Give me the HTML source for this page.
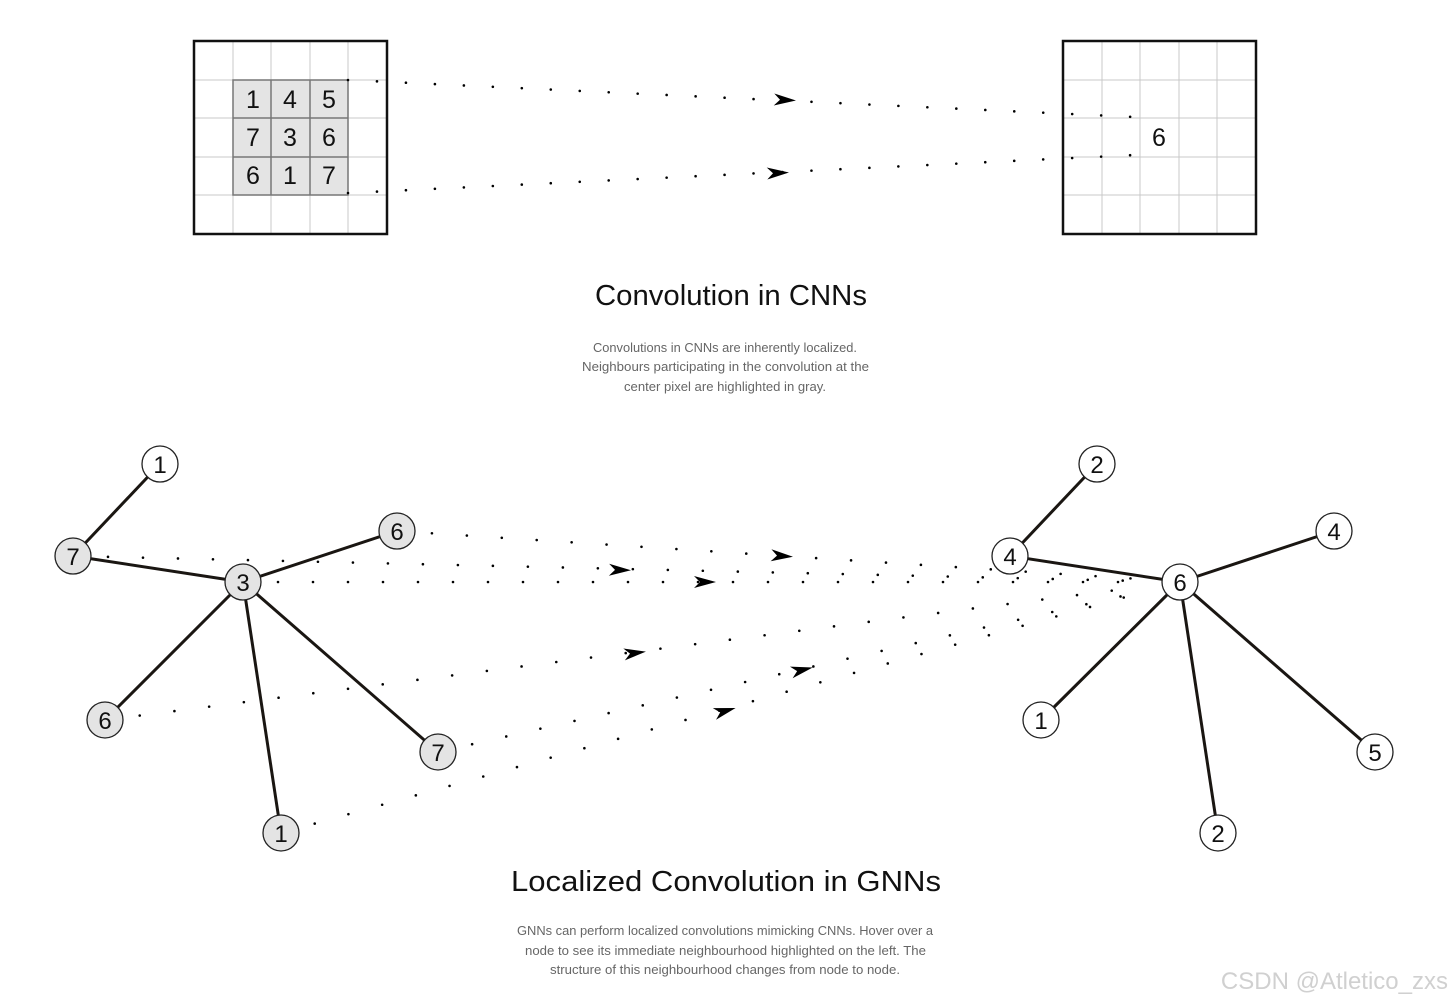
<!DOCTYPE html>
<html><head><meta charset="utf-8"><style>
html,body{margin:0;padding:0;background:#fff;}
svg{display:block;font-family:"Liberation Sans","DejaVu Sans",sans-serif;}
</style></head><body>
<svg width="1452" height="1006" viewBox="0 0 1452 1006">
<defs><polygon id="ah" points="-11,-6 11,0 -11,6 -5,0" fill="#000"/></defs>
<rect x="233" y="80" width="115" height="115" fill="#e4e4e4"/>
<g stroke="#c8c8c8" stroke-width="1">
<line x1="233" y1="41" x2="233" y2="234"/><line x1="271" y1="41" x2="271" y2="234"/><line x1="310" y1="41" x2="310" y2="234"/><line x1="348" y1="41" x2="348" y2="234"/>
<line x1="194" y1="80" x2="387" y2="80"/><line x1="194" y1="118" x2="387" y2="118"/><line x1="194" y1="157" x2="387" y2="157"/><line x1="194" y1="195" x2="387" y2="195"/>
<line x1="1102" y1="41" x2="1102" y2="234"/><line x1="1140" y1="41" x2="1140" y2="234"/><line x1="1179" y1="41" x2="1179" y2="234"/><line x1="1217" y1="41" x2="1217" y2="234"/>
<line x1="1063" y1="80" x2="1256" y2="80"/><line x1="1063" y1="118" x2="1256" y2="118"/><line x1="1063" y1="157" x2="1256" y2="157"/><line x1="1063" y1="195" x2="1256" y2="195"/>
</g>
<g stroke="#777" stroke-width="1.5" fill="none">
<rect x="233" y="80" width="115" height="115"/>
<line x1="271" y1="80" x2="271" y2="195"/><line x1="310" y1="80" x2="310" y2="195"/>
<line x1="233" y1="118" x2="348" y2="118"/><line x1="233" y1="157" x2="348" y2="157"/>
</g>
<rect x="194" y="41" width="193" height="193" fill="none" stroke="#111" stroke-width="2.5"/>
<rect x="1063" y="41" width="193" height="193" fill="none" stroke="#111" stroke-width="2.5"/>
<g font-size="25" text-anchor="middle" fill="#111">
<text x="253" y="108">1</text><text x="290" y="108">4</text><text x="329" y="108">5</text>
<text x="253" y="146">7</text><text x="290" y="146">3</text><text x="329" y="146">6</text>
<text x="253" y="184">6</text><text x="290" y="184">1</text><text x="329" y="184">7</text>
<text x="1159" y="146">6</text>
</g>
<g stroke="#000" stroke-width="2.6" stroke-linecap="round" stroke-dasharray="0 29" fill="none">
<line x1="348" y1="80" x2="1135" y2="117"/>
<line x1="348" y1="193" x2="1135" y2="155"/>
</g>
<use href="#ah" transform="translate(785,100) rotate(2.7)"/>
<use href="#ah" transform="translate(778,173) rotate(-2.8)"/>
<g font-size="29" fill="#111">
<text x="595" y="305" textLength="272" lengthAdjust="spacingAndGlyphs">Convolution in CNNs</text>
<text x="511" y="891" textLength="430" lengthAdjust="spacingAndGlyphs">Localized Convolution in GNNs</text>
</g>
<g font-size="12.5" fill="#666" lengthAdjust="spacingAndGlyphs">
<text x="593" y="352" textLength="264" lengthAdjust="spacingAndGlyphs">Convolutions in CNNs are inherently localized.</text>
<text x="582" y="371" textLength="287" lengthAdjust="spacingAndGlyphs">Neighbours participating in the convolution at the</text>
<text x="624" y="391" textLength="202" lengthAdjust="spacingAndGlyphs">center pixel are highlighted in gray.</text>
<text x="517" y="935" textLength="416" lengthAdjust="spacingAndGlyphs">GNNs can perform localized convolutions mimicking CNNs. Hover over a</text>
<text x="525" y="955" textLength="401" lengthAdjust="spacingAndGlyphs">node to see its immediate neighbourhood highlighted on the left. The</text>
<text x="550" y="974" textLength="350" lengthAdjust="spacingAndGlyphs">structure of this neighbourhood changes from node to node.</text>
</g>
<g stroke="#000" stroke-width="2.6" stroke-linecap="round" stroke-dasharray="0 35" stroke-dashoffset="-35" fill="none">
<line x1="73" y1="556" x2="1140" y2="581"/>
<line x1="243" y1="582" x2="1140" y2="582"/>
<line x1="397" y1="531" x2="1140" y2="579"/>
<line x1="105" y1="720" x2="1140" y2="587"/>
<line x1="438" y1="752" x2="1140" y2="592"/>
<line x1="281" y1="833" x2="1140" y2="593"/>
</g>
<use href="#ah" transform="translate(782,556) rotate(3.7)"/>
<use href="#ah" transform="translate(620,570) rotate(1.3)"/>
<use href="#ah" transform="translate(705,582)"/>
<use href="#ah" transform="translate(635,653) rotate(-7.3)"/>
<use href="#ah" transform="translate(802,670) rotate(-12.9)"/>
<use href="#ah" transform="translate(725,711) rotate(-15.6)"/>
<g stroke="#1a1612" stroke-width="3">
<line x1="160" y1="464" x2="73" y2="556"/>
<line x1="73" y1="556" x2="243" y2="582"/>
<line x1="243" y1="582" x2="397" y2="531"/>
<line x1="243" y1="582" x2="105" y2="720"/>
<line x1="243" y1="582" x2="281" y2="833"/>
<line x1="243" y1="582" x2="438" y2="752"/>
<line x1="1097" y1="464" x2="1010" y2="556"/>
<line x1="1010" y1="556" x2="1180" y2="582"/>
<line x1="1180" y1="582" x2="1334" y2="531"/>
<line x1="1180" y1="582" x2="1041" y2="720"/>
<line x1="1180" y1="582" x2="1218" y2="833"/>
<line x1="1180" y1="582" x2="1375" y2="752"/>
</g>
<g stroke="#222" stroke-width="1.3">
<circle cx="160" cy="464" r="18" fill="#fff"/>
<circle cx="73" cy="556" r="18" fill="#e4e4e4"/>
<circle cx="243" cy="582" r="18" fill="#e4e4e4"/>
<circle cx="397" cy="531" r="18" fill="#e4e4e4"/>
<circle cx="105" cy="720" r="18" fill="#e4e4e4"/>
<circle cx="281" cy="833" r="18" fill="#e4e4e4"/>
<circle cx="438" cy="752" r="18" fill="#e4e4e4"/>
<circle cx="1097" cy="464" r="18" fill="#fff"/>
<circle cx="1010" cy="556" r="18" fill="#fff"/>
<circle cx="1180" cy="582" r="18" fill="#fff"/>
<circle cx="1334" cy="531" r="18" fill="#fff"/>
<circle cx="1041" cy="720" r="18" fill="#fff"/>
<circle cx="1375" cy="752" r="18" fill="#fff"/>
<circle cx="1218" cy="833" r="18" fill="#fff"/>
</g>
<g font-size="24" text-anchor="middle" fill="#111">
<text x="160" y="473">1</text><text x="73" y="565">7</text><text x="243" y="591">3</text>
<text x="397" y="540">6</text><text x="105" y="729">6</text><text x="281" y="842">1</text>
<text x="438" y="761">7</text>
<text x="1097" y="473">2</text><text x="1010" y="565">4</text><text x="1180" y="591">6</text>
<text x="1334" y="540">4</text><text x="1041" y="729">1</text><text x="1375" y="761">5</text>
<text x="1218" y="842">2</text>
</g>
<text x="1448" y="989" font-size="24" text-anchor="end" fill="#d0d0d0">CSDN @Atletico_zxs</text>
</svg>
</body></html>
